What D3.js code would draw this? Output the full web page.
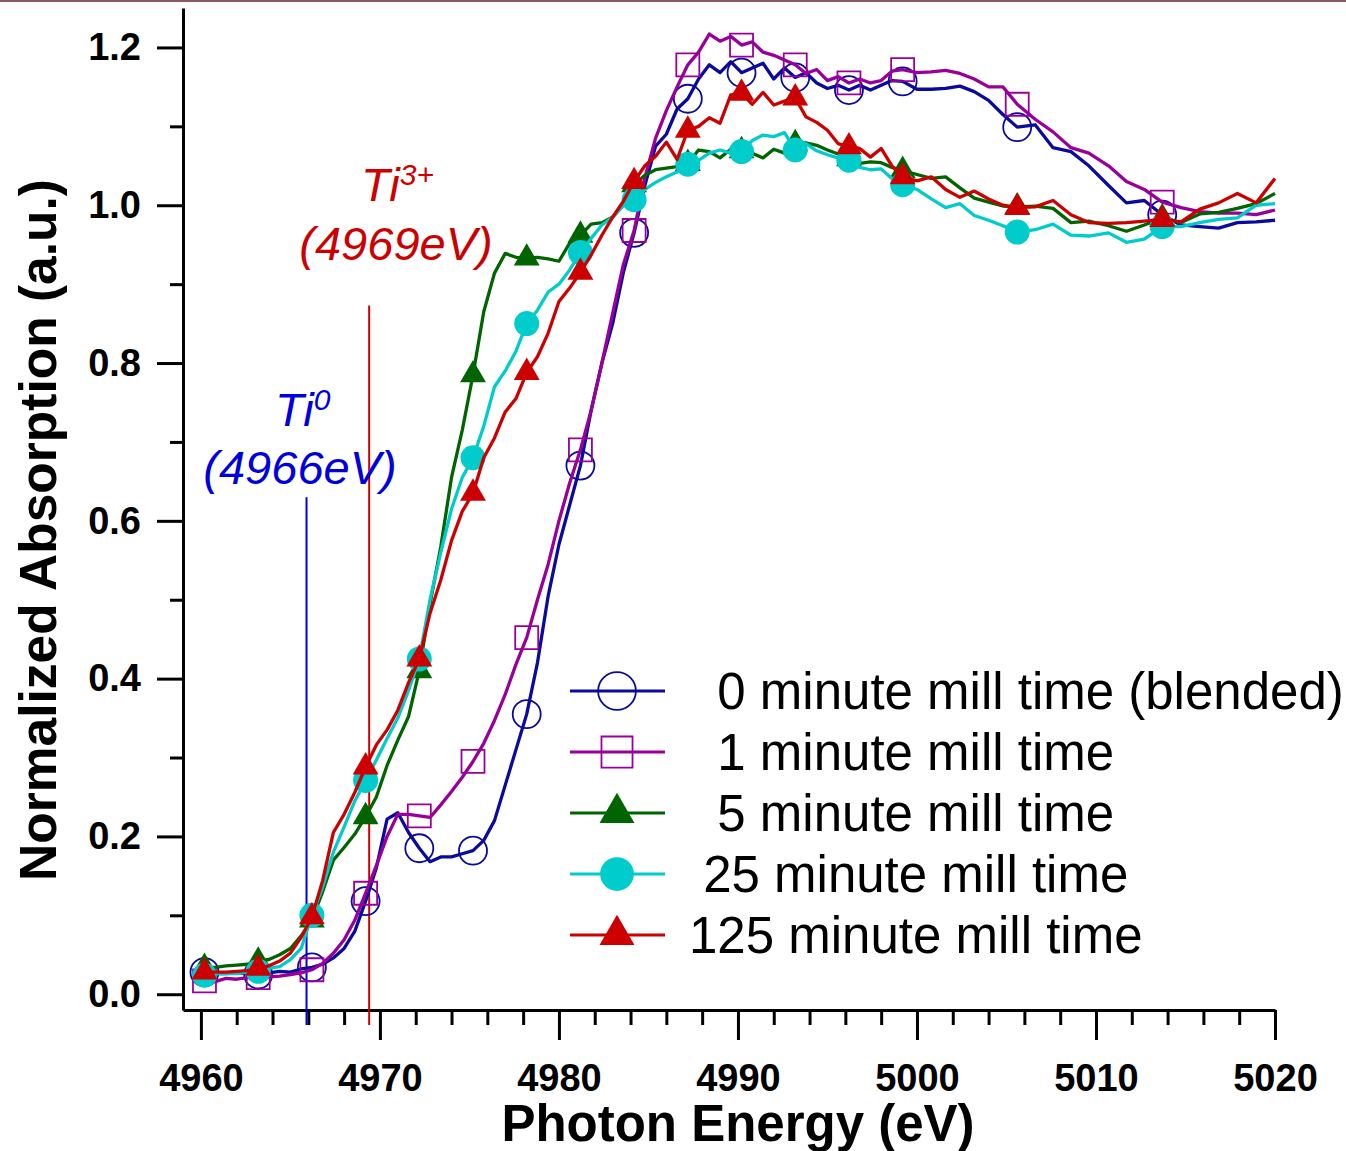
<!DOCTYPE html>
<html>
<head>
<meta charset="utf-8">
<script src="https://cdn.jsdelivr.net/npm/d3@7/dist/d3.min.js"></script>
<style>
  body { margin: 0; background: #fff; }
  svg { display: block; font-family: "Liberation Sans", Arial, sans-serif; }
</style>
</head>
<body>
<svg width="1346" height="1151"></svg>
<script>
// Photon energy grid (eV), shared by all traces
const energy = [
  4960.2, 4960.8, 4961.4, 4962.0, 4962.6, 4963.2, 4963.8, 4964.4, 4965.0, 4965.6,
  4966.2, 4966.8, 4967.4, 4968.0, 4968.6, 4969.2, 4969.8, 4970.4, 4971.0, 4971.6,
  4972.2, 4972.8, 4973.4, 4974.0, 4974.6, 4975.2, 4975.8, 4976.4, 4977.0, 4977.6,
  4978.2, 4978.8, 4979.4, 4980.0, 4980.6, 4981.2, 4981.8, 4982.4, 4983.0, 4983.6,
  4984.2, 4984.8, 4985.4, 4986.0, 4986.6, 4987.2, 4987.8, 4988.4, 4989.0, 4989.6,
  4990.2, 4990.8, 4991.4, 4992.0, 4992.6, 4993.2, 4993.8, 4994.4, 4995.0, 4995.6,
  4996.2, 4996.8, 4997.4, 4998.0, 4998.6, 4999.2, 5000.0, 5000.8, 5001.6, 5002.4,
  5003.2, 5004.0, 5004.8, 5005.6, 5006.6, 5007.6, 5008.6, 5009.6, 5010.7, 5011.7,
  5012.7, 5013.7, 5014.75, 5015.8, 5016.85, 5017.9, 5018.95, 5020.0
];

// Normalized absorption for each mill time
const mill0 = [
  0.028, 0.026, 0.026, 0.027, 0.026, 0.025, 0.027, 0.029, 0.028, 0.032,
  0.034, 0.038, 0.046, 0.058, 0.080, 0.118, 0.160, 0.222, 0.230, 0.205,
  0.185, 0.168, 0.174, 0.174, 0.178, 0.182, 0.195, 0.220, 0.265, 0.310,
  0.355, 0.420, 0.505, 0.570, 0.620, 0.670, 0.740, 0.800, 0.850, 0.915,
  0.965, 1.025, 1.075, 1.090, 1.122, 1.135, 1.160, 1.178, 1.168, 1.182,
  1.168, 1.174, 1.180, 1.160, 1.174, 1.162, 1.168, 1.155, 1.148, 1.152,
  1.146, 1.152, 1.146, 1.152, 1.158, 1.157, 1.147, 1.147, 1.148, 1.151,
  1.144, 1.133, 1.115, 1.099, 1.102, 1.073, 1.068, 1.050, 1.025, 1.003,
  1.006, 0.988, 0.975, 0.973, 0.971, 0.978, 0.979, 0.981
];
const mill1 = [
  0.017, 0.016, 0.020, 0.019, 0.021, 0.021, 0.022, 0.023, 0.025, 0.027,
  0.031, 0.039, 0.052, 0.069, 0.094, 0.128, 0.163, 0.200, 0.228, 0.228,
  0.226, 0.224, 0.240, 0.257, 0.275, 0.295, 0.318, 0.347, 0.380, 0.418,
  0.452, 0.500, 0.545, 0.600, 0.648, 0.690, 0.740, 0.800, 0.863, 0.925,
  0.968, 1.035, 1.085, 1.120, 1.150, 1.178, 1.194, 1.217, 1.208, 1.214,
  1.203, 1.207, 1.194, 1.190, 1.184, 1.178, 1.167, 1.172, 1.158, 1.163,
  1.155, 1.160, 1.155, 1.158, 1.170, 1.172, 1.168, 1.169, 1.171, 1.167,
  1.160, 1.150, 1.150, 1.128, 1.109, 1.093, 1.073, 1.066, 1.050, 1.030,
  1.020, 1.004, 0.997, 0.992, 0.990, 0.990, 0.988, 0.994
];
const mill5 = [
  0.034, 0.034, 0.036, 0.037, 0.038, 0.042, 0.044, 0.050, 0.058, 0.074,
  0.094, 0.130, 0.170, 0.186, 0.203, 0.225, 0.250, 0.290, 0.322, 0.352,
  0.410, 0.495, 0.567, 0.655, 0.715, 0.785, 0.865, 0.914, 0.939, 0.934,
  0.933, 0.934, 0.932, 0.929, 0.952, 0.962, 0.976, 0.978, 0.985, 1.000,
  1.026, 1.038, 1.045, 1.047, 1.049, 1.053, 1.070, 1.068, 1.060, 1.071,
  1.069, 1.066, 1.060, 1.071, 1.066, 1.078, 1.079, 1.076, 1.070, 1.065,
  1.059, 1.053, 1.055, 1.054, 1.048, 1.044, 1.039, 1.034, 1.036, 1.022,
  1.009, 1.004, 0.999, 0.998, 0.999, 0.996, 0.978, 0.980, 0.974, 0.967,
  0.975, 0.984, 0.978, 0.989, 0.991, 0.996, 1.002, 1.015
];
const mill25 = [
  0.024, 0.026, 0.026, 0.026, 0.028, 0.029, 0.033, 0.035, 0.044, 0.058,
  0.100, 0.136, 0.180, 0.212, 0.245, 0.271, 0.297, 0.324, 0.350, 0.385,
  0.425, 0.500, 0.560, 0.615, 0.655, 0.680, 0.720, 0.770, 0.790, 0.815,
  0.850, 0.867, 0.890, 0.900, 0.918, 0.940, 0.958, 0.975, 0.985, 1.000,
  1.007, 1.020, 1.029, 1.036, 1.042, 1.052, 1.057, 1.066, 1.070, 1.066,
  1.068, 1.082, 1.089, 1.087, 1.092, 1.070, 1.078, 1.069, 1.064, 1.060,
  1.057, 1.048, 1.045, 1.046, 1.034, 1.026, 1.020, 1.008, 0.997, 1.002,
  0.987, 0.981, 0.974, 0.966, 0.969, 0.976, 0.962, 0.961, 0.965, 0.953,
  0.957, 0.973, 0.973, 0.978, 0.982, 0.984, 1.000, 1.002
];
const mill125 = [
  0.028, 0.028, 0.028, 0.029, 0.030, 0.033, 0.036, 0.042, 0.052, 0.072,
  0.098, 0.144, 0.205, 0.228, 0.256, 0.288, 0.316, 0.335, 0.360, 0.395,
  0.425, 0.483, 0.525, 0.575, 0.612, 0.635, 0.680, 0.705, 0.738, 0.755,
  0.788, 0.808, 0.838, 0.878, 0.895, 0.915, 0.937, 0.962, 0.985, 1.005,
  1.030, 1.050, 1.062, 1.080, 1.058, 1.095, 1.100, 1.111, 1.104, 1.140,
  1.142, 1.128, 1.143, 1.127, 1.132, 1.136, 1.112, 1.105, 1.095, 1.078,
  1.074, 1.072, 1.061, 1.072, 1.050, 1.036, 1.031, 1.036, 1.020, 1.010,
  1.018, 1.008, 1.000, 0.997, 0.998, 1.006, 0.988, 0.978, 0.977, 0.978,
  0.980, 0.982, 0.979, 0.995, 1.003, 1.015, 1.003, 1.034
];

// points that carry a marker
const markerIdx = [0, 5, 10, 15, 20, 25, 30, 35, 40, 45, 50, 55, 60, 65, 73, 81];

const seriesLabels = [
  "  0 minute mill time (blended)",
  "  1 minute mill time",
  "  5 minute mill time",
  " 25 minute mill time",
  "125 minute mill time"
];
const seriesColors = ["#0a0a9e", "#990099", "#006400", "#00cccc", "#cc0000"];

const xTicks = [4960, 4970, 4980, 4990, 5000, 5010, 5020];
const yTicks = [0, 0.2, 0.4, 0.6, 0.8, 1.0, 1.2];
const yMinor = [0.1, 0.3, 0.5, 0.7, 0.9, 1.1];

// edge positions marked with vertical lines
const edgeE = [4965.9, 4969.4];
const edgeTop = [0.63, 0.873];
const edgeColors = ["#0000dd", "#cc0000"];

var svg = d3.select("svg");

svg.append("rect")
  .attr("x", 0).attr("y", 0)
  .attr("width", 1346).attr("height", 2)
  .attr("fill", "#8c5a5a");

var x = d3.scaleLinear().domain([4959, 5020]).range([183, 1275]);
var y = d3.scaleLinear().domain([-0.02, 1.25]).range([1010, 8]);

// axes
var xMinor = d3.range(4962, 5020, 2).filter(function(d) { return d % 10 !== 0; });

svg.append("g")
  .attr("transform", "translate(0,1010)")
  .call(d3.axisBottom(x).tickValues(xMinor).tickSize(15).tickSizeOuter(0).tickFormat(""))
  .call(g => g.select(".domain").remove());

var gx = svg.append("g")
  .attr("transform", "translate(0,1010)")
  .call(d3.axisBottom(x).tickValues(xTicks).tickSize(30).tickSizeOuter(0).tickPadding(24).tickFormat(d3.format("d")));

svg.append("g")
  .attr("transform", "translate(183,0)")
  .call(d3.axisLeft(y).tickValues(yMinor).tickSize(13).tickSizeOuter(0).tickFormat(""))
  .call(g => g.select(".domain").remove());

var gy = svg.append("g")
  .attr("transform", "translate(183,0)")
  .call(d3.axisLeft(y).tickValues(yTicks).tickSize(26).tickSizeOuter(0).tickPadding(16).tickFormat(d3.format(".1f")));

svg.selectAll(".tick line, .domain")
  .attr("stroke", "#000")
  .attr("stroke-width", 3);

svg.selectAll(".tick text")
  .attr("fill", "#000")
  .style("font-size", "38px")
  .style("font-weight", "bold")
  .style("font-family", "'Liberation Sans', Arial, sans-serif");

// axis titles
svg.append("text")
  .attr("x", 738).attr("y", 1141)
  .attr("text-anchor", "middle")
  .style("font-size", "51px").style("font-weight", "bold")
  .text("Photon Energy (eV)");

svg.append("text")
  .attr("transform", "translate(56,530) rotate(-90)")
  .attr("text-anchor", "middle")
  .style("font-size", "51.5px").style("font-weight", "bold")
  .text("Normalized Absorption (a.u.)");

// edge reference lines
edgeE.forEach(function(e, i) {
  svg.append("line")
    .attr("x1", x(e)).attr("x2", x(e))
    .attr("y1", y(edgeTop[i])).attr("y2", 1025)
    .attr("stroke", edgeColors[i])
    .attr("stroke-width", 2);
});

var ti0 = svg.append("text")
  .attr("x", 275).attr("y", 426)
  .attr("fill", edgeColors[0])
  .style("font-size", "47px").style("font-style", "italic");
ti0.append("tspan").text("Ti");
ti0.append("tspan").attr("dy", -16).style("font-size", "30px").text("0");

svg.append("text")
  .attr("x", 300).attr("y", 484)
  .attr("text-anchor", "middle")
  .attr("fill", edgeColors[0])
  .style("font-size", "47px").style("font-style", "italic")
  .text("(4966eV)");

var ti3 = svg.append("text")
  .attr("x", 361).attr("y", 201)
  .attr("fill", edgeColors[1])
  .style("font-size", "47px").style("font-style", "italic");
ti3.append("tspan").text("Ti");
ti3.append("tspan").attr("dy", -16).style("font-size", "30px").text("3+");

svg.append("text")
  .attr("x", 396).attr("y", 260)
  .attr("text-anchor", "middle")
  .attr("fill", edgeColors[1])
  .style("font-size", "47px").style("font-style", "italic")
  .text("(4969eV)");

// traces
var allSeries = [mill0, mill1, mill5, mill25, mill125];
var markerKind = [
  { type: d3.symbolCircle, size: Math.PI * 14 * 14, filled: false },
  { type: d3.symbolSquare, size: 23 * 23, filled: false },
  { type: d3.symbolTriangle, size: 290, filled: true },
  { type: d3.symbolCircle, size: Math.PI * 12.5 * 12.5, filled: true },
  { type: d3.symbolTriangle, size: 290, filled: true }
];

var line = d3.line()
  .x(function(d) { return x(d[0]); })
  .y(function(d) { return y(d[1]); });

function drawSymbol(sel, i, scale) {
  var m = markerKind[i];
  sel.attr("d", d3.symbol().type(m.type).size(m.size * scale * scale)())
    .attr("fill", m.filled ? seriesColors[i] : "none")
    .attr("stroke", seriesColors[i])
    .attr("stroke-width", m.filled ? 0 : 1.8);
}

allSeries.forEach(function(vals, i) {
  var pts = energy.map(function(e, k) { return [e, vals[k]]; });
  var g = svg.append("g");
  g.append("path")
    .datum(pts)
    .attr("d", line)
    .attr("fill", "none")
    .attr("stroke", seriesColors[i])
    .attr("stroke-width", 3.3)
    .attr("stroke-linejoin", "round");
  g.selectAll("path.mk")
    .data(markerIdx.map(function(k) { return pts[k]; }))
    .enter()
    .append("path")
    .attr("class", "mk")
    .attr("transform", function(d) { return "translate(" + x(d[0]) + "," + y(d[1]) + ")"; })
    .call(drawSymbol, i, 1);
});

// legend
var legend = svg.append("g");
seriesLabels.forEach(function(label, i) {
  var ly = 691 + i * 61;
  legend.append("line")
    .attr("x1", 570).attr("x2", 665)
    .attr("y1", ly).attr("y2", ly)
    .attr("stroke", seriesColors[i])
    .attr("stroke-width", 3);
  legend.append("path")
    .attr("transform", "translate(617," + ly + ")")
    .call(drawSymbol, i, 1.35);
  legend.append("text")
    .attr("x", 689).attr("y", ly + 18)
    .attr("xml:space", "preserve")
    .style("white-space", "pre")
    .style("font-size", "51px")
    .text(label);
});
</script>
</body>
</html>
